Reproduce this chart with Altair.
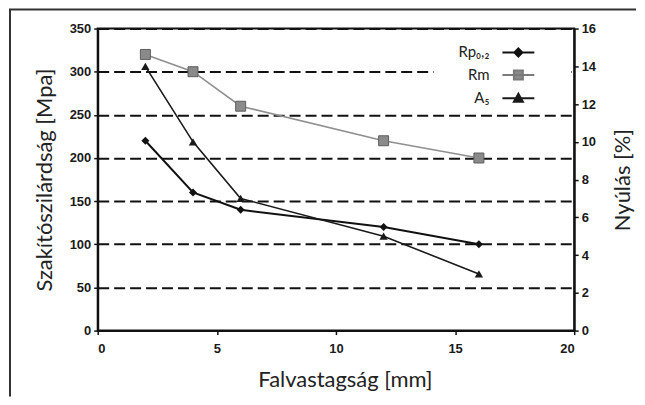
import altair as alt
import pandas as pd

# ---- data ----
thickness = [2, 4, 6, 12, 16]          # Falvastagság [mm]
rp02 = [220, 160, 140, 120, 100]       # Rp0,2 [MPa]
rm = [320, 300, 260, 220, 200]         # Rm [MPa]
a5 = [14, 10, 7, 5, 3]                 # A5 [%]
series_names = ["Rp₀,₂", "Rm", "A₅"]
x_ticks = [0, 5, 10, 15, 20]
left_ticks = [0, 50, 100, 150, 200, 250, 300, 350]
right_ticks = [0, 2, 4, 6, 8, 10, 12, 14, 16]

W, H = 478, 303

df_rp = pd.DataFrame({"x": thickness, "v": rp02, "s": series_names[0]})
df_rm = pd.DataFrame({"x": thickness, "v": rm, "s": series_names[1]})
df_a5 = pd.DataFrame({"x": thickness, "v": a5, "s": series_names[2]})
df_leg = pd.DataFrame({"s": series_names})

x_enc = alt.X("x:Q", scale=alt.Scale(domain=[0, 20], nice=False),
              axis=alt.Axis(values=x_ticks, title="Falvastagság [mm]",
                            grid=False, tickSize=4, labelPadding=8,
                            titleX=248, titleY=49, titleBaseline="middle"))

left_axis = alt.Axis(values=left_ticks, title="Szakítószilárdság [Mpa]",
                     grid=True, gridDash=[11, 5], gridColor="#111111",
                     gridWidth=2, tickSize=4, labelPadding=3,
                     titleAngle=270, titleX=-53, titleY=H / 2,
                     titleBaseline="middle", titleAlign="center")
y_left = alt.Y("v:Q", scale=alt.Scale(domain=[0, 350], nice=False), axis=left_axis)

right_axis = alt.Axis(values=right_ticks, title="Nyúlás [%]", orient="right",
                      grid=False, tickSize=4, labelPadding=3,
                      titleAngle=270, titleX=48, titleY=H / 2,
                      titleBaseline="middle", titleAlign="center")
y_right = alt.Y("v:Q", scale=alt.Scale(domain=[0, 16], nice=False), axis=right_axis)

# white patch behind the legend (the 300 gridline stops before it)
mask = alt.Chart(pd.DataFrame({"k": [0]})).mark_rect(color="white").encode(
    x=alt.value(337), x2=alt.value(475), y=alt.value(37), y2=alt.value(50))

rp_line = alt.Chart(df_rp).mark_line(color="#111111", strokeWidth=2).encode(x=x_enc, y=y_left)
rp_pts = alt.Chart(df_rp).mark_point(shape="diamond", filled=True, size=64,
                                     color="#111111", opacity=1).encode(x=x_enc, y=y_left)
rm_line = alt.Chart(df_rm).mark_line(color="#8f8f8f", strokeWidth=1.6).encode(x=x_enc, y=y_left)
rm_pts = alt.Chart(df_rm).mark_point(shape="square", filled=True, size=100,
                                     fill="#8a8a8a", stroke="#5e5e5e", strokeWidth=1,
                                     opacity=1).encode(x=x_enc, y=y_left)

# legend symbols: a short line with the marker, drawn to the right of the label
leg_paths = [
    "M2.4,0H5.6M4,-0.4L4.4,0L4,0.4L3.6,0Z",
    "M2.4,0H5.6M3.55,-0.45H4.45V0.45H3.55Z",
    "M2.4,0H5.6M4,-0.45L4.45,0.35L3.55,0.35Z",
]
leg_colors = ["#111111", "#8a8a8a", "#1a1a1a"]
leg_strokes = ["#111111", "#7a7a7a", "#1a1a1a"]
legend_layer = alt.Chart(df_leg).transform_filter("false").mark_point(
    filled=True, opacity=1).encode(
    fill=alt.Fill("s:N", scale=alt.Scale(domain=series_names, range=leg_colors),
                  legend=alt.Legend(orient="none", legendX=371, legendY=13,
                                    title=None, padding=0,
                                    symbolSize=400, symbolStrokeWidth=2,
                                    labelAlign="right", labelOffset=0,
                                    labelFont="Lato", labelFontSize=15,
                                    labelColor="#222222", rowPadding=3.5,
                                    labelLimit=0)),
    stroke=alt.Stroke("s:N", scale=alt.Scale(domain=series_names, range=leg_strokes)),
    shape=alt.Shape("s:N", scale=alt.Scale(domain=series_names, range=leg_paths)),
)

left = alt.layer(mask, rp_line, rm_line, rp_pts, rm_pts, legend_layer)

a5_line = alt.Chart(df_a5).mark_line(color="#1a1a1a", strokeWidth=1.6).encode(x=x_enc, y=y_right)
a5_pts = alt.Chart(df_a5).mark_point(shape="triangle-up", filled=True, size=70,
                                     color="#1a1a1a", opacity=1).encode(x=x_enc, y=y_right)
right = alt.layer(a5_line, a5_pts)

frame_df = pd.DataFrame({"k": [0]})
frame_v = alt.Chart(frame_df).mark_rule(color="#333333", strokeWidth=2).encode(
    x=alt.value(-88), y=alt.value(-19), y2=alt.value(369))
frame_h = alt.Chart(frame_df).mark_rule(color="#333333", strokeWidth=2).encode(
    x=alt.value(-89), x2=alt.value(540), y=alt.value(-19))

chart = alt.layer(left, right, frame_v, frame_h).resolve_scale(
    y="independent"
).properties(width=W, height=H, padding=0).configure_view(
    stroke="#111111", strokeWidth=2
).configure_axis(
    domainColor="#111111", domainWidth=2, tickColor="#111111", tickWidth=1.5,
    labelFont="Liberation Sans", labelFontSize=13, labelFontWeight="bold",
    labelColor="#1a1a1a",
    titleFont="Lato", titleFontSize=22, titleFontWeight="normal", titleColor="#222222"
)

chart.save("out.html", embed_options={"renderer": "svg", "actions": False})
